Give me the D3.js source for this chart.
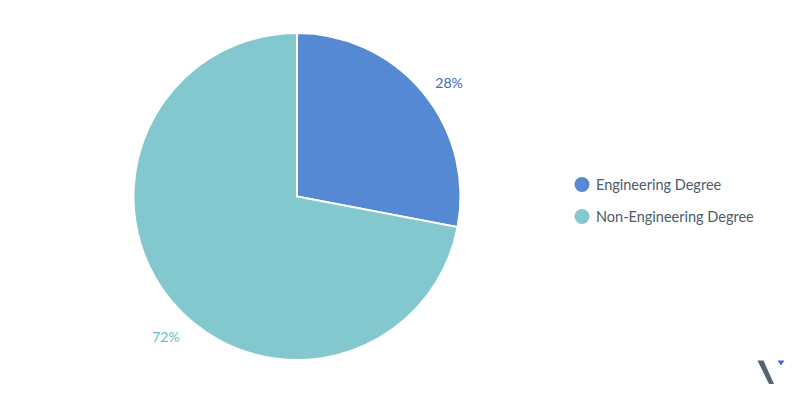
<!DOCTYPE html>
<html>
<head>
<meta charset="utf-8">
<script src="https://cdn.jsdelivr.net/npm/d3@7"></script>
<style>
  body { margin: 0; background: #fff; }
  #main-frame { width: 800px; height: 400px; }
  text { font-family: Lato, "Open Sans", sans-serif; }
</style>
</head>
<body>
<div id="main-frame"></div>
<script>
var categories = ["Engineering Degree", "Non-Engineering Degree"];
var values = [28, 72];
var sliceColors = ["#5589d3", "#84c8cf"];
var labelColors = ["#3a68c4", "#6bbac4"];

var width = 800, height = 400;
var cx = 297, cy = 196.5, radius = 163.5;

var svg = d3.select("#main-frame")
  .append("svg")
  .attr("width", width)
  .attr("height", height);

var pie = d3.pie().sort(null).value(function(d) { return d; });
var arc = d3.arc().innerRadius(0).outerRadius(radius);
var labelArc = d3.arc().innerRadius(radius + 28).outerRadius(radius + 28);

var arcs = pie(values);

var g = svg.append("g").attr("transform", "translate(" + cx + "," + cy + ")");

g.selectAll("path.slice")
  .data(arcs)
  .enter().append("path")
  .attr("class", "slice")
  .attr("d", arc)
  .attr("fill", function(d, i) { return sliceColors[i]; })
  .attr("stroke", "#fff")
  .attr("stroke-width", 2);

// percentage labels outside the pie, nudged like the original
g.selectAll("text.pct")
  .data(arcs)
  .enter().append("text")
  .attr("class", "pct")
  .attr("transform", function(d) {
    var c = labelArc.centroid(d);
    var right = c[0] > 0;
    return "translate(" + (c[0] + (right ? 4.5 : 16.5)) + "," + (c[1] + (right ? 8.5 : 17.5)) + ")";
  })
  .attr("text-anchor", "middle")
  .attr("dominant-baseline", "central")
  .attr("font-size", 14)
  .attr("fill", function(d, i) { return labelColors[i]; })
  .text(function(d) { return d.data + "%"; });

// legend
var legend = svg.append("g").attr("transform", "translate(582,184.5)");
var legendY = d3.scalePoint().domain(categories).range([0, 32]);

var item = legend.selectAll("g.item")
  .data(categories)
  .enter().append("g")
  .attr("class", "item")
  .attr("transform", function(d) { return "translate(0," + legendY(d) + ")"; });

item.append("circle")
  .attr("r", 7.5)
  .attr("fill", function(d, i) { return sliceColors[i]; });

item.append("text")
  .attr("x", 14)
  .attr("dominant-baseline", "central")
  .attr("font-size", 14.5)
  .attr("fill", "#4b5a69")
  .text(function(d) { return d; });

// little logo mark bottom right
svg.append("path")
  .attr("d", "M757.5,360.5 L763.5,360.5 L774,384 L769,384 Z")
  .attr("fill", "#55646f");
svg.append("path")
  .attr("d", "M777.5,360.5 L784.5,360.5 L781,365.5 Z")
  .attr("fill", "#3f6fc0");
</script>
</body>
</html>
